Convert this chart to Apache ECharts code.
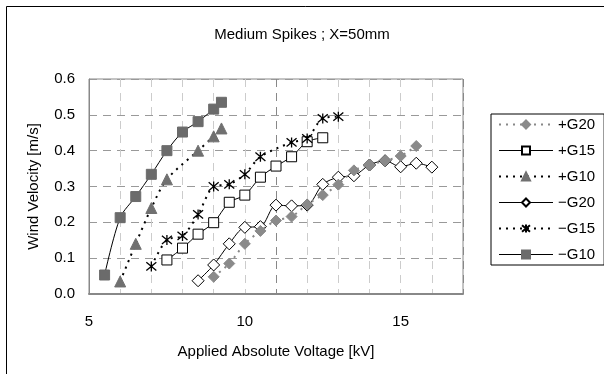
<!DOCTYPE html>
<html>
<head>
<meta charset="utf-8">
<script src="https://cdn.jsdelivr.net/npm/echarts@6/dist/echarts.min.js"></script>
<style>
  html, body { margin: 0; padding: 0; background: #fff; }
  #chart { width: 604px; height: 374px; }
</style>
</head>
<body>
<div id="chart"></div>
<script>
// values
const xPosG20 = [9, 9.5, 10, 10.5, 11, 11.5, 12, 12.5, 13, 13.5, 14, 14.5, 15, 15.5];
const yPosG20 = [0.048, 0.085, 0.140, 0.176, 0.205, 0.216, 0.250, 0.276, 0.305, 0.345, 0.360, 0.372, 0.385, 0.413];

const xPosG15 = [7.5, 8, 8.5, 9, 9.5, 10, 10.5, 11, 11.5, 12, 12.5];
const yPosG15 = [0.095, 0.128, 0.167, 0.199, 0.256, 0.276, 0.326, 0.357, 0.383, 0.425, 0.436];

const xPosG10 = [6, 6.5, 7, 7.5, 8.5, 9, 9.25];
const yPosG10 = [0.035, 0.140, 0.240, 0.320, 0.400, 0.440, 0.462];

const xNegG20 = [8.5, 9, 9.5, 10, 10.5, 11, 11.5, 12, 12.5, 13, 13.5, 14, 14.5, 15, 15.5, 16];
const yNegG20 = [0.037, 0.081, 0.140, 0.186, 0.188, 0.248, 0.246, 0.248, 0.306, 0.326, 0.330, 0.360, 0.372, 0.355, 0.365, 0.354];

const xNegG15 = [7, 7.5, 8, 8.5, 9, 9.5, 10, 10.5, 11.5, 12, 12.5, 13];
const yNegG15 = [0.077, 0.151, 0.162, 0.222, 0.300, 0.306, 0.334, 0.383, 0.423, 0.434, 0.490, 0.495];

const xNegG10 = [5.5, 6, 6.5, 7, 7.5, 8, 8.5, 9, 9.25];
const yNegG10 = [0.053, 0.213, 0.272, 0.334, 0.400, 0.452, 0.481, 0.516, 0.535];

const seriesNames = ['+G20', '+G15', '+G10', '\u2212G20', '\u2212G15', '\u2212G10'];
const dottedSeries = [true, false, true, false, true, false];

const titleText = 'Medium Spikes ; X=50mm';
const xName = 'Applied Absolute Voltage [kV]';
const yName = 'Wind Velocity [m/s]';

const FONT = 'Liberation Sans';
const asterisk = 'path://M0,0L10,10M10,0L0,10M5,-1L5,11';

function pairs(xs, ys) {
    return xs.map((x, i) => [x, ys[i]]);
}

function makeSeries(name, xs, ys, opt) {
    return {
        name: name,
        type: 'line',
        xAxisIndex: 0,
        smooth: 0.3,
        data: pairs(xs, ys),
        symbol: opt.symbol,
        symbolSize: opt.size,
        z: opt.z || 3,
        lineStyle: {
            color: opt.lineColor,
            width: opt.dotted ? 2 : 1,
            type: opt.dotted ? [2, 5] : 'solid'
        },
        itemStyle: {
            color: opt.fill,
            borderColor: opt.border,
            borderWidth: opt.borderWidth || 1
        },
        emphasis: { disabled: true }
    };
}

let myChart = echarts.init(document.getElementById('chart'), null, { renderer: 'canvas' });

let option = {
    animation: false,
    backgroundColor: '#fff',
    textStyle: { fontFamily: FONT },
    title: {
        text: titleText,
        left: 'center',
        top: 22,
        textStyle: { fontFamily: FONT, fontSize: 15, fontWeight: 'normal', color: '#000' }
    },
    graphic: [{
        type: 'rect',
        shape: { x: 6.5, y: 6.5, width: 700, height: 500 },
        style: { fill: 'none', stroke: '#000', lineWidth: 1 },
        silent: true
    }],
    legend: {
        orient: 'vertical',
        left: 491,
        top: 114,
        padding: [3, 9, 3, 7],
        itemGap: 11,
        itemWidth: 54,
        itemHeight: 10,
        borderColor: '#000',
        borderWidth: 1,
        backgroundColor: '#fff',
        textStyle: { fontFamily: FONT, fontSize: 15, color: '#000' },
        data: seriesNames.map((n, i) => ({
            name: n,
            lineStyle: { width: dottedSeries[i] ? 2 : 1 }
        }))
    },
    grid: {
        left: 89,
        top: 79,
        right: 141,
        bottom: 80,
        show: true,
        borderColor: '#888',
        borderWidth: 1
    },
    xAxis: [{
        type: 'value',
        min: 5,
        max: 17,
        interval: 1,
        name: xName,
        nameLocation: 'middle',
        nameGap: 50,
        nameTextStyle: { fontFamily: FONT, fontSize: 15, color: '#000' },
        axisLine: { lineStyle: { color: '#888', width: 2 } },
        axisTick: { show: false },
        axisLabel: {
            margin: 20,
            fontFamily: FONT,
            fontSize: 15,
            color: '#000',
            formatter: function (v) { return v % 5 === 0 ? String(v) : ''; },
            showMaxLabel: false
        },
        splitLine: { lineStyle: { color: '#ccc', type: [8, 6] } }
    }, {
        type: 'value',
        min: 5,
        max: 15,
        interval: 5,
        position: 'bottom',
        axisLine: { show: false },
        axisTick: { show: false },
        axisLabel: { show: false },
        splitLine: { lineStyle: { color: '#888', type: [8, 6] } }
    }],
    yAxis: {
        type: 'value',
        min: 0,
        max: 0.6,
        interval: 0.1,
        name: yName,
        nameLocation: 'middle',
        nameRotate: 90,
        nameGap: 48,
        nameTextStyle: { fontFamily: FONT, fontSize: 15, color: '#000' },
        axisLine: { show: true, lineStyle: { color: '#888', width: 1 } },
        axisTick: { show: false },
        axisLabel: {
            margin: 14,
            fontFamily: FONT,
            fontSize: 15,
            color: '#000',
            formatter: function (v) { return v.toFixed(1); }
        },
        splitLine: { lineStyle: { color: '#999', type: [8, 6] } }
    },
    series: [
        makeSeries(seriesNames[0], xPosG20, yPosG20, {
            symbol: 'diamond', size: 11, lineColor: '#888', dotted: true,
            fill: '#8a8a8a', border: '#8a8a8a', z: 5
        }),
        makeSeries(seriesNames[1], xPosG15, yPosG15, {
            symbol: 'rect', size: 10, lineColor: '#000', dotted: false,
            fill: '#fff', border: '#000'
        }),
        makeSeries(seriesNames[2], xPosG10, yPosG10, {
            symbol: 'triangle', size: 11, lineColor: '#000', dotted: true,
            fill: '#707070', border: '#707070'
        }),
        makeSeries(seriesNames[3], xNegG20, yNegG20, {
            symbol: 'diamond', size: 12, lineColor: '#000', dotted: false,
            fill: '#fff', border: '#000'
        }),
        makeSeries(seriesNames[4], xNegG15, yNegG15, {
            symbol: asterisk, size: 10, lineColor: '#000', dotted: true,
            fill: '#000', border: '#000', borderWidth: 1.3
        }),
        makeSeries(seriesNames[5], xNegG10, yNegG10, {
            symbol: 'rect', size: 10, lineColor: '#000', dotted: false,
            fill: '#6b6b6b', border: '#6b6b6b'
        })
    ]
};

myChart.setOption(option);
</script>
</body>
</html>
